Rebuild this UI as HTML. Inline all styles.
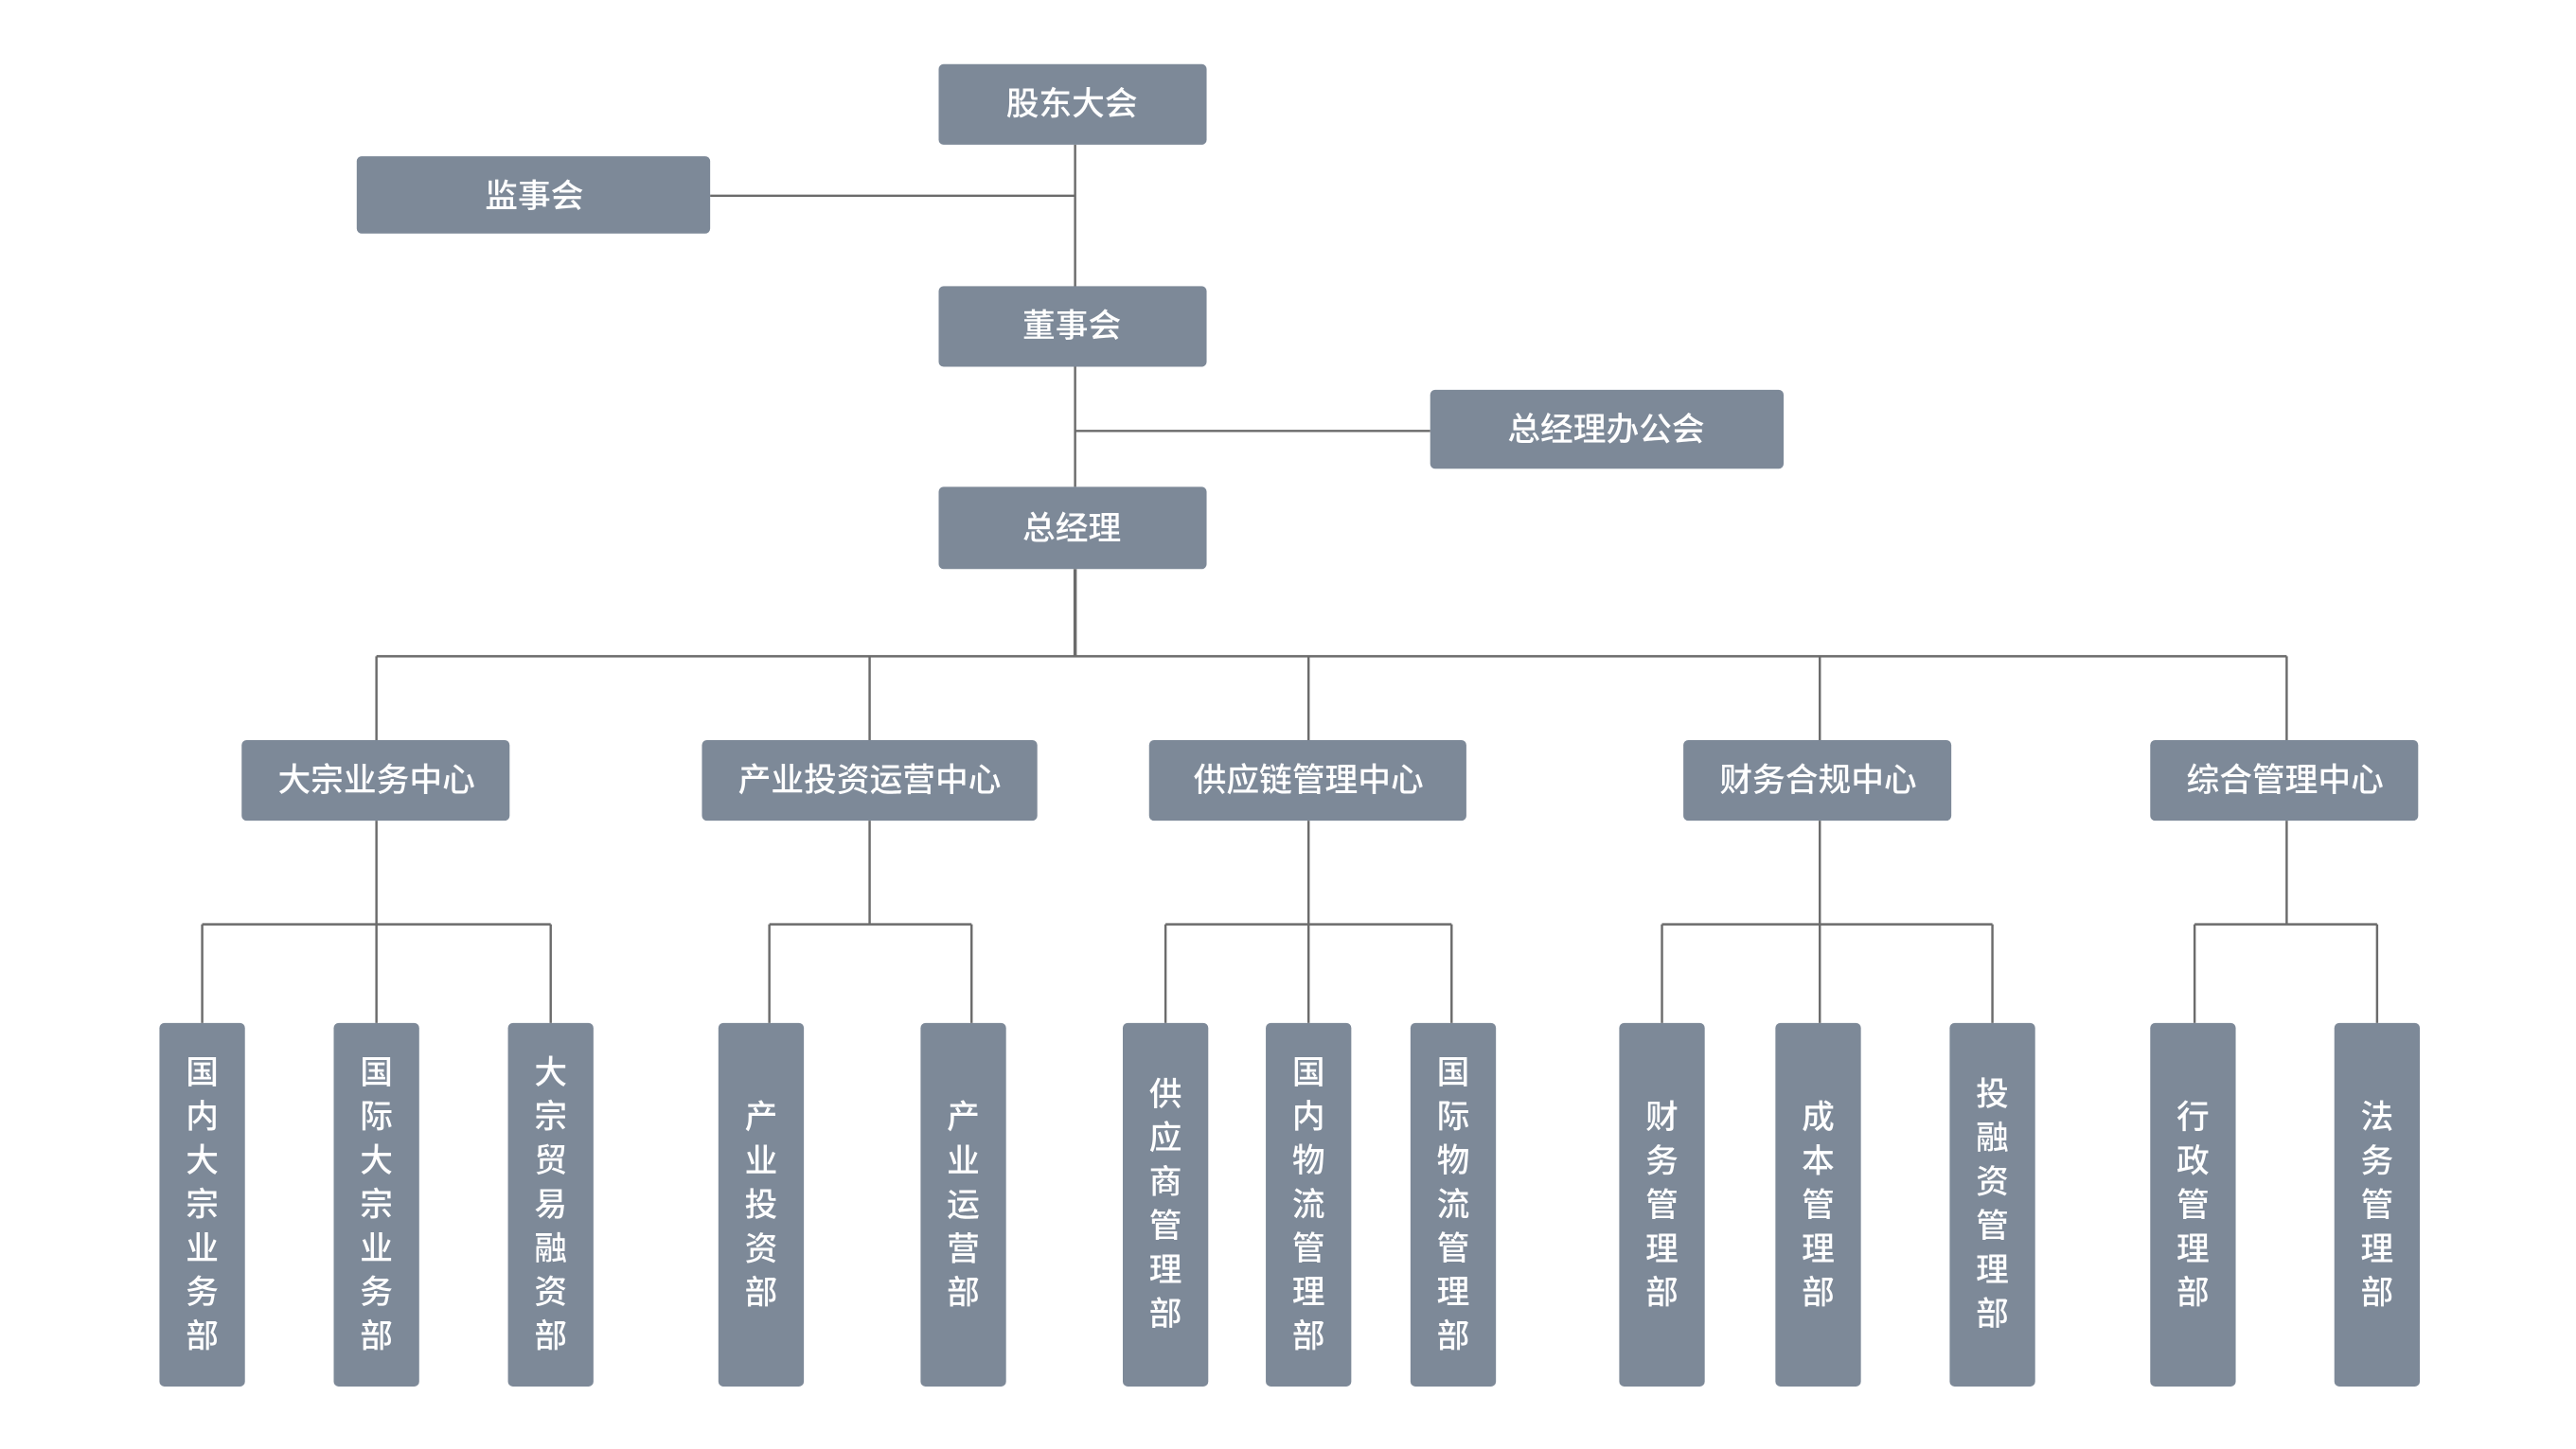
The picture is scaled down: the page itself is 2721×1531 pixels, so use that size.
<!DOCTYPE html>
<html><head><meta charset="utf-8"><style>
html,body{margin:0;padding:0;background:#fff;}
svg{display:block;}
text{font-family:"Liberation Sans","Noto Sans CJK SC",sans-serif;fill:#fff;font-weight:500;}
</style></head><body>
<svg width="2721" height="1531" viewBox="0 0 1567 881" preserveAspectRatio="none" xmlns="http://www.w3.org/2000/svg">
<g stroke="#6b6b6b" stroke-width="1.4" fill="none">
<line x1="654" y1="88" x2="654" y2="296"/>
<line x1="432" y1="119" x2="654" y2="119"/>
<line x1="654" y1="262" x2="870" y2="262"/>
<line x1="654" y1="346" x2="654" y2="399" stroke-width="2"/>
<line x1="229" y1="399" x2="1391" y2="399"/>
<line x1="229" y1="399" x2="229" y2="450"/>
<line x1="529" y1="399" x2="529" y2="450"/>
<line x1="796" y1="399" x2="796" y2="450"/>
<line x1="1107" y1="399" x2="1107" y2="450"/>
<line x1="1391" y1="399" x2="1391" y2="450"/>
<line x1="229" y1="499" x2="229" y2="622"/>
<line x1="123" y1="562" x2="335" y2="562"/>
<line x1="123" y1="562" x2="123" y2="622"/>
<line x1="335" y1="562" x2="335" y2="622"/>
<line x1="529" y1="499" x2="529" y2="562"/>
<line x1="468" y1="562" x2="591" y2="562"/>
<line x1="468" y1="562" x2="468" y2="622"/>
<line x1="591" y1="562" x2="591" y2="622"/>
<line x1="796" y1="499" x2="796" y2="622"/>
<line x1="709" y1="562" x2="883" y2="562"/>
<line x1="709" y1="562" x2="709" y2="622"/>
<line x1="883" y1="562" x2="883" y2="622"/>
<line x1="1107" y1="499" x2="1107" y2="622"/>
<line x1="1011" y1="562" x2="1212" y2="562"/>
<line x1="1011" y1="562" x2="1011" y2="622"/>
<line x1="1212" y1="562" x2="1212" y2="622"/>
<line x1="1391" y1="499" x2="1391" y2="562"/>
<line x1="1335" y1="562" x2="1446" y2="562"/>
<line x1="1335" y1="562" x2="1335" y2="622"/>
<line x1="1446" y1="562" x2="1446" y2="622"/>
</g>
<g fill="#7d8998">
<rect x="571" y="39" width="163" height="49" rx="3"/>
<rect x="217" y="95" width="215" height="47" rx="3"/>
<rect x="571" y="174" width="163" height="49" rx="3"/>
<rect x="870" y="237" width="215" height="48" rx="3"/>
<rect x="571" y="296" width="163" height="50" rx="3"/>
<rect x="147" y="450" width="163" height="49" rx="3"/>
<rect x="427" y="450" width="204" height="49" rx="3"/>
<rect x="699" y="450" width="193" height="49" rx="3"/>
<rect x="1024" y="450" width="163" height="49" rx="3"/>
<rect x="1308" y="450" width="163" height="49" rx="3"/>
<rect x="97" y="622" width="52" height="221" rx="3"/>
<rect x="203" y="622" width="52" height="221" rx="3"/>
<rect x="309" y="622" width="52" height="221" rx="3"/>
<rect x="437" y="622" width="52" height="221" rx="3"/>
<rect x="560" y="622" width="52" height="221" rx="3"/>
<rect x="683" y="622" width="52" height="221" rx="3"/>
<rect x="770" y="622" width="52" height="221" rx="3"/>
<rect x="858" y="622" width="52" height="221" rx="3"/>
<rect x="985" y="622" width="52" height="221" rx="3"/>
<rect x="1080" y="622" width="52" height="221" rx="3"/>
<rect x="1186" y="622" width="52" height="221" rx="3"/>
<rect x="1308" y="622" width="52" height="221" rx="3"/>
<rect x="1420" y="622" width="52" height="221" rx="3"/>
</g>
<g font-size="20" text-anchor="middle">
<text x="652" y="70">股东大会</text>
<text x="325" y="126">监事会</text>
<text x="652" y="205">董事会</text>
<text x="977" y="268">总经理办公会</text>
<text x="652" y="328">总经理</text>
<text x="229" y="481">大宗业务中心</text>
<text x="529" y="481">产业投资运营中心</text>
<text x="796" y="481">供应链管理中心</text>
<text x="1106" y="481">财务合规中心</text>
<text x="1390" y="481">综合管理中心</text>
</g>
<g font-size="20" text-anchor="middle">
<text x="123" y="659"><tspan x="123">国</tspan><tspan x="123" dy="26.7">内</tspan><tspan x="123" dy="26.7">大</tspan><tspan x="123" dy="26.7">宗</tspan><tspan x="123" dy="26.7">业</tspan><tspan x="123" dy="26.7">务</tspan><tspan x="123" dy="26.7">部</tspan></text>
<text x="229" y="659"><tspan x="229">国</tspan><tspan x="229" dy="26.7">际</tspan><tspan x="229" dy="26.7">大</tspan><tspan x="229" dy="26.7">宗</tspan><tspan x="229" dy="26.7">业</tspan><tspan x="229" dy="26.7">务</tspan><tspan x="229" dy="26.7">部</tspan></text>
<text x="335" y="659"><tspan x="335">大</tspan><tspan x="335" dy="26.7">宗</tspan><tspan x="335" dy="26.7">贸</tspan><tspan x="335" dy="26.7">易</tspan><tspan x="335" dy="26.7">融</tspan><tspan x="335" dy="26.7">资</tspan><tspan x="335" dy="26.7">部</tspan></text>
<text x="463" y="686"><tspan x="463">产</tspan><tspan x="463" dy="26.7">业</tspan><tspan x="463" dy="26.7">投</tspan><tspan x="463" dy="26.7">资</tspan><tspan x="463" dy="26.7">部</tspan></text>
<text x="586" y="686"><tspan x="586">产</tspan><tspan x="586" dy="26.7">业</tspan><tspan x="586" dy="26.7">运</tspan><tspan x="586" dy="26.7">营</tspan><tspan x="586" dy="26.7">部</tspan></text>
<text x="709" y="672"><tspan x="709">供</tspan><tspan x="709" dy="26.7">应</tspan><tspan x="709" dy="26.7">商</tspan><tspan x="709" dy="26.7">管</tspan><tspan x="709" dy="26.7">理</tspan><tspan x="709" dy="26.7">部</tspan></text>
<text x="796" y="659"><tspan x="796">国</tspan><tspan x="796" dy="26.7">内</tspan><tspan x="796" dy="26.7">物</tspan><tspan x="796" dy="26.7">流</tspan><tspan x="796" dy="26.7">管</tspan><tspan x="796" dy="26.7">理</tspan><tspan x="796" dy="26.7">部</tspan></text>
<text x="884" y="659"><tspan x="884">国</tspan><tspan x="884" dy="26.7">际</tspan><tspan x="884" dy="26.7">物</tspan><tspan x="884" dy="26.7">流</tspan><tspan x="884" dy="26.7">管</tspan><tspan x="884" dy="26.7">理</tspan><tspan x="884" dy="26.7">部</tspan></text>
<text x="1011" y="686"><tspan x="1011">财</tspan><tspan x="1011" dy="26.7">务</tspan><tspan x="1011" dy="26.7">管</tspan><tspan x="1011" dy="26.7">理</tspan><tspan x="1011" dy="26.7">部</tspan></text>
<text x="1106" y="686"><tspan x="1106">成</tspan><tspan x="1106" dy="26.7">本</tspan><tspan x="1106" dy="26.7">管</tspan><tspan x="1106" dy="26.7">理</tspan><tspan x="1106" dy="26.7">部</tspan></text>
<text x="1212" y="672"><tspan x="1212">投</tspan><tspan x="1212" dy="26.7">融</tspan><tspan x="1212" dy="26.7">资</tspan><tspan x="1212" dy="26.7">管</tspan><tspan x="1212" dy="26.7">理</tspan><tspan x="1212" dy="26.7">部</tspan></text>
<text x="1334" y="686"><tspan x="1334">行</tspan><tspan x="1334" dy="26.7">政</tspan><tspan x="1334" dy="26.7">管</tspan><tspan x="1334" dy="26.7">理</tspan><tspan x="1334" dy="26.7">部</tspan></text>
<text x="1446" y="686"><tspan x="1446">法</tspan><tspan x="1446" dy="26.7">务</tspan><tspan x="1446" dy="26.7">管</tspan><tspan x="1446" dy="26.7">理</tspan><tspan x="1446" dy="26.7">部</tspan></text>
</g>
</svg>
</body></html>
